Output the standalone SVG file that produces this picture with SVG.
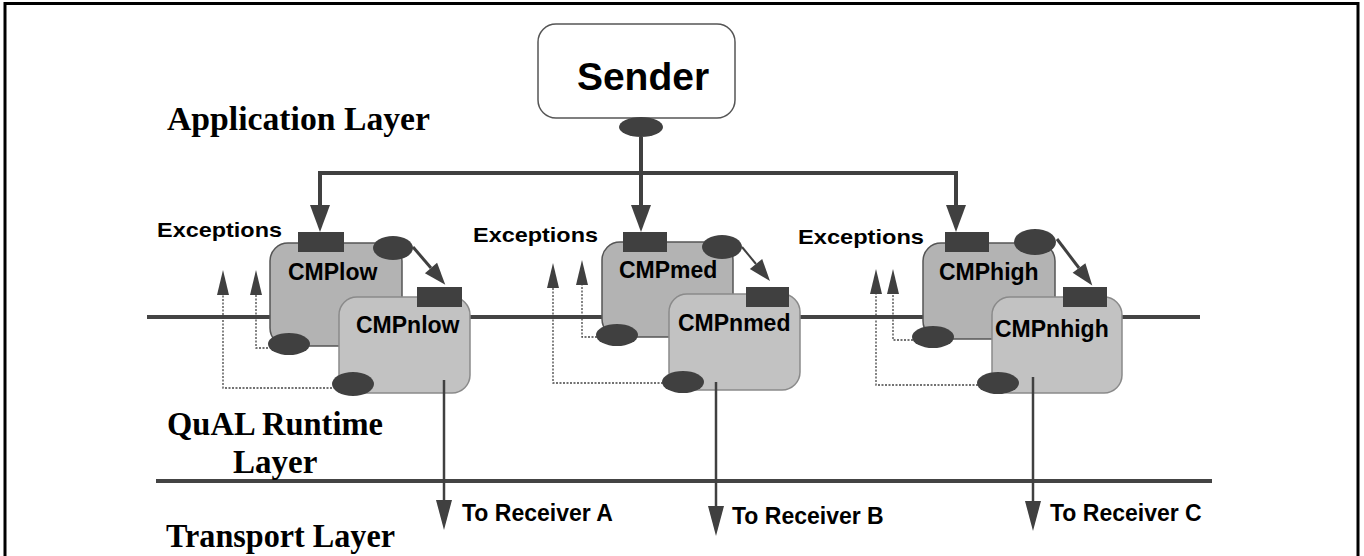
<svg xmlns="http://www.w3.org/2000/svg" width="1364" height="556" viewBox="0 0 1364 556">
<style>
.serif{font-family:"Liberation Serif","Times New Roman",serif;font-weight:bold;font-size:33px;fill:#000}
.sans{font-family:"Liberation Sans",Arial,sans-serif;font-weight:bold;fill:#000}
.cmp{font-size:23px}
.exc{font-size:21px}
.recv{font-size:23px}
.layerline{stroke:#444;stroke-width:4;fill:none}
.bus{stroke:#404040;stroke-width:4;fill:none}
.out{stroke:#404040;stroke-width:2.5;fill:none}
.dot{stroke:#444;stroke-width:1.3;stroke-dasharray:2 1.5;fill:none}
.diag{stroke:#404040;fill:none}
.box1{fill:#b3b3b3;stroke:#555;stroke-width:1.5}
.box2{fill:#c2c2c2;stroke:#8a8a8a;stroke-width:1.5}
.port{fill:#404040}
.ell{fill:#404040}
</style>
<defs>
<marker id="bigHead" markerUnits="userSpaceOnUse" markerWidth="28" markerHeight="20" refX="0" refY="10" orient="auto" overflow="visible"><path d="M0,0 L27,10 L0,20 Z" fill="#404040"/></marker>
<marker id="downHead" markerUnits="userSpaceOnUse" markerWidth="30" markerHeight="16" refX="0" refY="8" orient="auto" overflow="visible"><path d="M0,0 L30,8 L0,16 Z" fill="#404040"/></marker>
<marker id="excHead" markerUnits="userSpaceOnUse" markerWidth="25" markerHeight="12" refX="0" refY="6" orient="auto" overflow="visible"><path d="M0,0 L25,6 L0,12 Z" fill="#404040"/></marker>
<marker id="diagHead" markerUnits="userSpaceOnUse" markerWidth="22" markerHeight="16" refX="0" refY="8" orient="auto" overflow="visible"><path d="M0,0 L22,8 L0,16 Z" fill="#404040"/></marker>
</defs>
<rect x="0" y="0" width="1364" height="556" fill="#fff"/>
<path d="M5,556 L5,3.5 L1358,3.5 L1358,556" fill="none" stroke="#000" stroke-width="3"/>

<g id="layers">
<line class="layerline" x1="147" y1="317" x2="1200" y2="317"/>
<line class="layerline" x1="156" y1="481" x2="1212" y2="481"/>
<text class="serif" x="167" y="130" textLength="263" lengthAdjust="spacingAndGlyphs">Application Layer</text>
<text class="serif" x="167" y="435" textLength="216" lengthAdjust="spacingAndGlyphs">QuAL Runtime</text>
<text class="serif" x="233" y="473">Layer</text>
<text class="serif" x="166" y="547" textLength="229" lengthAdjust="spacingAndGlyphs">Transport Layer</text>
</g>

<g id="sender">
<rect x="538" y="24" width="197" height="94" rx="18" fill="#fff" stroke="#555" stroke-width="1.5"/>
<text class="sans" x="643" y="90" font-size="39" text-anchor="middle">Sender</text>
<ellipse class="ell" cx="641" cy="127" rx="22" ry="10"/>
</g>

<g id="cmplow-group">
<g id="cmplow">
<rect class="box1" x="270" y="243" width="132" height="103" rx="18"/>
<text class="sans cmp" x="288" y="280">CMPlow</text>
</g>
<g id="cmpnlow">
<rect class="box2" x="339" y="297" width="131" height="96" rx="18"/>
<text class="sans cmp" x="356" y="333">CMPnlow</text>
</g>
<rect class="port" x="298" y="232" width="46" height="20"/>
<rect class="port" x="417" y="287" width="45" height="20"/>
<ellipse class="ell" cx="393" cy="248" rx="20" ry="12"/>
<ellipse class="ell" cx="289" cy="344" rx="21" ry="11"/>
<ellipse class="ell" cx="353" cy="384" rx="21" ry="12"/>
<text class="sans exc" x="157" y="237" textLength="125" lengthAdjust="spacingAndGlyphs">Exceptions</text>
</g>

<g id="cmpmed-group">
<g id="cmpmed">
<rect class="box1" x="602" y="242" width="131" height="95" rx="18"/>
<text class="sans cmp" x="619" y="278">CMPmed</text>
</g>
<g id="cmpnmed">
<rect class="box2" x="669" y="294" width="131" height="96" rx="18"/>
<text class="sans cmp" x="678" y="331">CMPnmed</text>
</g>
<rect class="port" x="623" y="232" width="44" height="20"/>
<rect class="port" x="746" y="287" width="43" height="20"/>
<ellipse class="ell" cx="722" cy="247" rx="20" ry="12"/>
<ellipse class="ell" cx="617" cy="335" rx="21" ry="11"/>
<ellipse class="ell" cx="683" cy="382" rx="21" ry="11"/>
<text class="sans exc" x="473" y="242" textLength="125" lengthAdjust="spacingAndGlyphs">Exceptions</text>
</g>

<g id="cmphigh-group">
<g id="cmphigh">
<rect class="box1" x="923" y="243" width="132" height="96" rx="18"/>
<text class="sans cmp" x="939" y="280">CMPhigh</text>
</g>
<g id="cmpnhigh">
<rect class="box2" x="992" y="297" width="130" height="96" rx="18"/>
<text class="sans cmp" x="995" y="337">CMPnhigh</text>
</g>
<rect class="port" x="945" y="232" width="44" height="20"/>
<rect class="port" x="1063" y="287" width="44" height="20"/>
<ellipse class="ell" cx="1035" cy="242" rx="21" ry="13"/>
<ellipse class="ell" cx="933" cy="337" rx="21" ry="11"/>
<ellipse class="ell" cx="998" cy="383" rx="21" ry="11"/>
<text class="sans exc" x="798" y="244" textLength="126" lengthAdjust="spacingAndGlyphs">Exceptions</text>
</g>

<g id="connectors">
<path class="bus" d="M641,137 L641,205"/>
<path class="bus" d="M320,205 L320,173 L956,173 L956,202"/>
<path class="bus" d="M320,190 L320,205" marker-end="url(#bigHead)"/>
<path class="bus" d="M641,190 L641,205" marker-end="url(#bigHead)"/>
<path class="bus" d="M956,190 L956,205" marker-end="url(#bigHead)"/>

<path class="diag" stroke-width="3" d="M413,247 L431,268" marker-end="url(#diagHead)"/>
<path class="diag" stroke-width="2" d="M742,247 L756,264" marker-end="url(#diagHead)"/>
<path class="diag" stroke-width="3" d="M1057,239 L1079,268" marker-end="url(#diagHead)"/>

<path class="dot" d="M332,388 L223,388 L223,295" marker-end="url(#excHead)"/>
<path class="dot" d="M268,348 L256,348 L256,295" marker-end="url(#excHead)"/>
<path class="dot" d="M663,383 L553,383 L553,288" marker-end="url(#excHead)"/>
<path class="dot" d="M597,337 L582,337 L582,285" marker-end="url(#excHead)"/>
<path class="dot" d="M978,385 L876,385 L876,294" marker-end="url(#excHead)"/>
<path class="dot" d="M913,340 L893,340 L893,294" marker-end="url(#excHead)"/>

<path class="out" d="M444,380 L444,500" marker-end="url(#downHead)"/>
<path class="out" d="M716,382 L716,506" marker-end="url(#downHead)"/>
<path class="out" d="M1033,377 L1033,501" marker-end="url(#downHead)"/>
<text class="sans recv" x="462" y="521">To Receiver A</text>
<text class="sans recv" x="732" y="524">To Receiver B</text>
<text class="sans recv" x="1050" y="521">To Receiver C</text>
</g>
</svg>
